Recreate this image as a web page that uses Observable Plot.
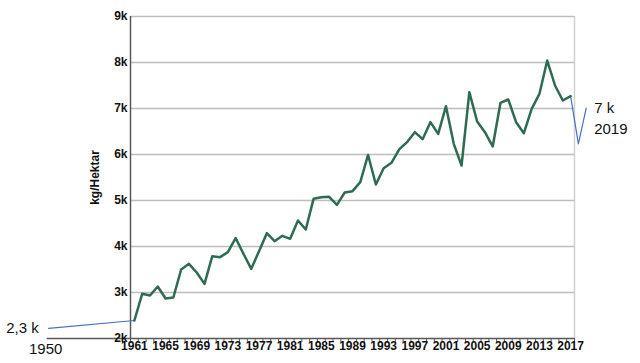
<!DOCTYPE html>
<html>
<head>
<meta charset="utf-8">
<script src="https://cdn.jsdelivr.net/npm/d3@7"></script>
<script src="https://cdn.jsdelivr.net/npm/@observablehq/plot@0.6"></script>
<style>
  html, body { margin: 0; padding: 0; background: #fff; }
</style>
</head>
<body>
<div id="chart"></div>
<script>
const years = d3.range(1961, 2018);
const yieldValues = [
  2391, 2971, 2935, 3130, 2870, 2891, 3500, 3623, 3435, 3188,
  3790, 3768, 3877, 4181, 3841, 3514, 3899, 4290, 4116, 4232,
  4167, 4565, 4370, 5036, 5072, 5080, 4906, 5174, 5203, 5400,
  5990, 5348, 5700, 5820, 6110, 6268, 6486, 6333, 6703, 6449,
  7051, 6232, 5761, 7355, 6717, 6486, 6174, 7123, 7196, 6703,
  6464, 6993, 7319, 8043, 7500, 7174, 7268
];
const yTicks = [2000, 3000, 4000, 5000, 6000, 7000, 8000, 9000];
const xLabelYears = d3.range(1961, 2018, 4);

// annotations
const pastYears = [1950, 1961];
const pastValues = [2220, 2391];
const futureYears = [2017, 2018, 2019];
const futureValues = [7268, 6232, 7007];
const pastLabel = "2,3 k";
const pastYearLabel = "1950";
const futureLabel = "7 k";
const futureYearLabel = "2019";

const data = years.map((y, i) => ({year: y, value: yieldValues[i]}));
const past = pastYears.map((y, i) => ({year: y, value: pastValues[i]}));
const future = futureYears.map((y, i) => ({year: y, value: futureValues[i]}));

const x0 = years[0] - 0.5, x1 = years[years.length - 1] + 0.5;
const boundaries = d3.range(x0, x1 + 0.01, 1);

const chart = Plot.plot({
  width: 640,
  height: 363,
  marginLeft: 130,
  marginRight: 66,
  marginTop: 16,
  marginBottom: 25,
  style: {fontFamily: "'Liberation Sans', Arial, sans-serif", color: "#111", background: "#fff"},
  x: {domain: [x0, x1]},
  y: {domain: [yTicks[0], yTicks[yTicks.length - 1]]},
  marks: [
    Plot.gridY(yTicks.slice(1), {stroke: "#bdbdbd", strokeOpacity: 1, strokeWidth: 1.5}),
    Plot.ruleX([x1], {stroke: "#d0d0d0", strokeWidth: 1.5}),
    Plot.ruleX([x0], {stroke: "#595959", strokeWidth: 1.5}),
    Plot.ruleY([yTicks[0]], {x1: pastYears[0] - 0.2, x2: x1, stroke: "#595959", strokeWidth: 1.5}),
    Plot.axisX(boundaries, {tickSize: 4, tickFormat: () => "", stroke: "#595959", label: null}),
    Plot.axisX(xLabelYears, {tickSize: 0, tickPadding: 3, tickFormat: "d", fontWeight: "bold", fontSize: 12, label: null}),
    Plot.axisY(yTicks, {tickSize: 0, tickPadding: 3, tickFormat: d => d / 1000 + "k", fontWeight: "bold", fontSize: 12,
      label: "kg/Hektar", labelAnchor: "center", labelArrow: "none", labelOffset: 40}),
    Plot.line(past, {x: "year", y: "value", stroke: "#4472c4", strokeWidth: 1.2}),
    Plot.line(future, {x: "year", y: "value", stroke: "#4472c4", strokeWidth: 1.2}),
    Plot.line(data, {x: "year", y: "value", stroke: "#2e6b50", strokeWidth: 2.5}),
    Plot.text([past[0]], {x: "year", y: "value", text: () => pastLabel, textAnchor: "end", dx: -10, fontSize: 15, fill: "#111"}),
    Plot.text([past[0]], {x: "year", y: () => yTicks[0], text: () => pastYearLabel, dy: 11, dx: -3, fontSize: 15, fill: "#111"}),
    Plot.text([future[2]], {x: "year", y: "value", text: () => futureLabel, textAnchor: "start", dx: 8, fontSize: 15, fill: "#111"}),
    Plot.text([future[2]], {x: "year", y: "value", text: () => futureYearLabel, textAnchor: "start", dx: 8, dy: 21, fontSize: 15, fill: "#111"})
  ]
});
document.getElementById("chart").appendChild(chart);
</script>
</body>
</html>
